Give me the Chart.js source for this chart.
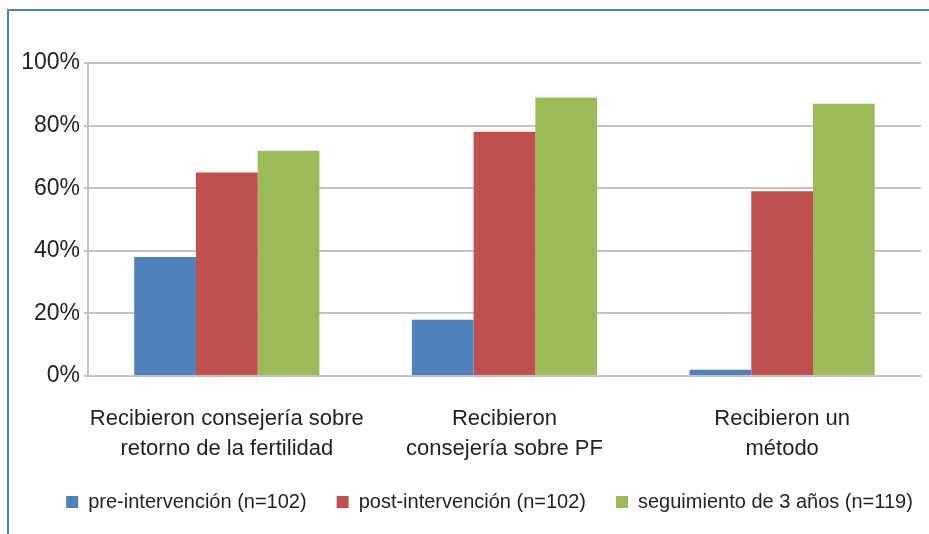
<!DOCTYPE html>
<html>
<head>
<meta charset="utf-8">
<script src="https://cdn.jsdelivr.net/npm/chart.js@4.4.1/dist/chart.umd.min.js"></script>
<style>
    html, body { margin: 0; padding: 0; background: #fff; }
    #chart-container { position: relative; width: 929px; height: 534px; }
</style>
</head>
<body>
<div id="chart-container"><canvas id="myBarChart"></canvas></div>
<script>
// --- Data ---
const categories = [
    ['Recibieron consejería sobre', 'retorno de la fertilidad'],
    ['Recibieron', 'consejería sobre PF'],
    ['Recibieron un', 'método']
];
const seriesNames = ['pre-intervención (n=102)', 'post-intervención (n=102)', 'seguimiento de 3 años (n=119)'];
const preValues = [38, 18, 2];
const postValues = [65, 78, 59];
const followUpValues = [72, 89, 87];
const yTickValues = [0, 20, 40, 60, 80, 100];

const textColor = '#231f20';
const gridColor = '#c4c4c4';
const fontFamily = '"Liberation Sans", Arial, sans-serif';

// blue frame on top and left, like the figure box
const framePlugin = {
    id: 'frame',
    afterLayout(chart) {
        // nudge the legend: its row sits a bit higher and right of the default spot
        const lg = chart.legend;
        const h = lg.height;
        lg.top = 462;
        lg.bottom = lg.top + h;
        lg.left += 29;
        lg.right += 29;
    },
    afterDraw(chart) {
        const ctx = chart.ctx;
        ctx.save();
        ctx.strokeStyle = '#4a7ebf';
        ctx.lineWidth = 2;
        ctx.beginPath();
        ctx.moveTo(8, 534);
        ctx.lineTo(8, 10);
        ctx.lineTo(929, 10);
        ctx.stroke();
        ctx.restore();
    }
};

const chartCanvas = document.getElementById('myBarChart');

new Chart(chartCanvas.getContext('2d'), {
    type: 'bar',
    data: {
        labels: categories,
        datasets: [
            { label: seriesNames[0], data: preValues, backgroundColor: '#4f81bd', borderWidth: 0 },
            { label: seriesNames[1], data: postValues, backgroundColor: '#c0504d', borderWidth: 0 },
            { label: seriesNames[2], data: followUpValues, backgroundColor: '#9bbb59', borderWidth: 0 }
        ]
    },
    options: {
        responsive: true,
        maintainAspectRatio: false,
        animation: false,
        devicePixelRatio: 1,
        datasets: {
            bar: { categoryPercentage: 0.667, barPercentage: 1.0 }
        },
        layout: {
            padding: { left: 0, right: 8, top: 63, bottom: 0 }
        },
        scales: {
            x: {
                grid: { display: false, drawTicks: false },
                border: { display: true, color: gridColor, width: 2 },
                ticks: {
                    color: textColor,
                    padding: 28,
                    maxRotation: 0,
                    autoSkip: false,
                    font: { family: fontFamily, size: 22, lineHeight: 1.36 }
                },
                afterFit: function(scale) { scale.height = 98; }
            },
            y: {
                min: 0,
                max: 100,
                afterBuildTicks: function(scale) {
                    scale.ticks = yTickValues.map(v => ({ value: v }));
                },
                grid: { color: gridColor, lineWidth: 2, tickLength: 4 },
                border: { display: true, color: gridColor, width: 2 },
                ticks: {
                    color: textColor,
                    padding: 4,
                    font: { family: fontFamily, size: 23 },
                    callback: function(value) { return value + '%'; }
                },
                afterFit: function(scale) { scale.width = 88; }
            }
        },
        plugins: {
            legend: {
                display: true,
                position: 'bottom',
                labels: {
                    color: textColor,
                    boxWidth: 12,
                    boxHeight: 12,
                    padding: 30,
                    font: { family: fontFamily, size: 20 }
                }
            },
            tooltip: { enabled: false }
        }
    },
    plugins: [framePlugin]
});
</script>
</body>
</html>
